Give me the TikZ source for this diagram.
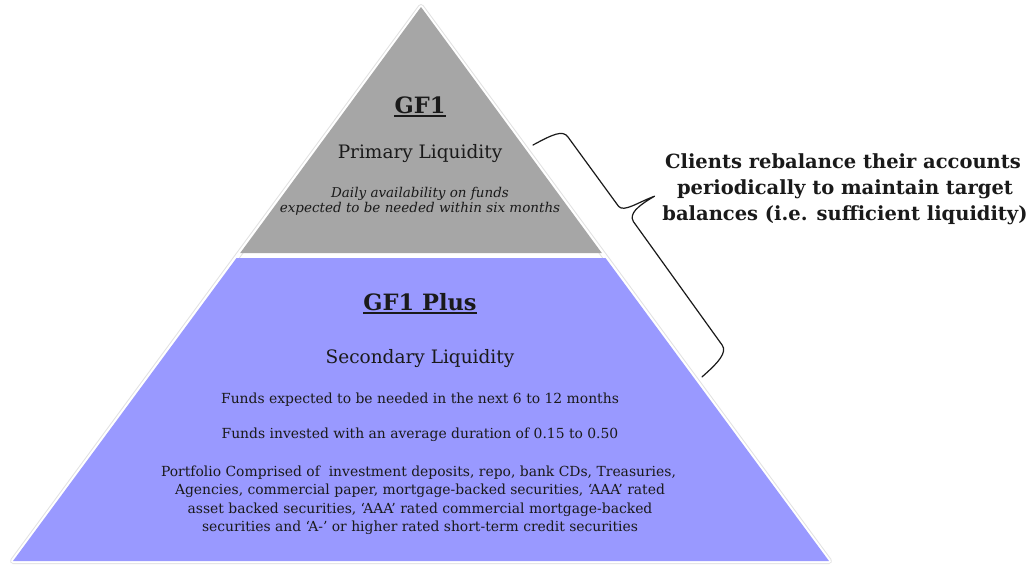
\documentclass[tikz,border=0pt]{standalone}
\usepackage{fontspec}
\setmainfont{DejaVu Serif}
\definecolor{gfgray}{HTML}{A6A6A6}
\definecolor{gfblue}{HTML}{9999FF}
\definecolor{txtc}{HTML}{1A1A1A}
\definecolor{edgec}{HTML}{E2E2E2}
\begin{document}
\begin{tikzpicture}[x=1pt,y=-1pt,
  txt/.style={inner sep=0pt, anchor=base, text=txtc},
  title/.style={txt, font=\fontsize{22.5}{26}\selectfont\bfseries},
  sub/.style={txt, font=\fontsize{18.5}{22}\selectfont},
  note/.style={txt, font=\fontsize{13.5}{16}\selectfont\itshape},
  body/.style={txt, font=\fontsize{13.9}{17}\selectfont},
  side/.style={txt, font=\fontsize{19.5}{24}\selectfont\bfseries},
  uline/.style={draw=txtc, line width=1.6pt},
  bracec/.style={draw=txtc, line width=1.2pt, line join=round, line cap=round}]
\useasboundingbox (0,0) rectangle (1029,568);
\fill[white] (0,0) rectangle (1029,568);
% pyramid outline
\draw[edgec, line width=6pt, line join=round] (421,7) -- (829,561) -- (13,561) -- cycle;
\draw[white, line width=4pt, line join=round] (421,7) -- (829,561) -- (13,561) -- cycle;
% tiers
\fill[gfgray] (421,7) -- (601.8,253) -- (240.2,253) -- cycle;
\fill[gfblue] (236.5,258) -- (605.5,258) -- (829,561) -- (13,561) -- cycle;
% GF1 tier
\node[title] (gf1) at (420,113) {GF1};
\draw[uline] ([yshift=-3pt]gf1.base west) -- ([yshift=-3pt]gf1.base east);
\node[sub] (pl) at (420,158) {Primary Liquidity};
\node[note] (d1) at (420,197) {Daily availability on funds};
\node[note] (d2) at (420,212.5) {expected to be needed within six months};
% GF1 Plus tier
\node[title] (gfp) at (420,310) {GF1 Plus};
\draw[uline] ([yshift=-3pt]gfp.base west) -- ([yshift=-3pt]gfp.base east);
\node[sub] (sl) at (420,363) {Secondary Liquidity};
\node[body] (f1) at (420,403) {Funds expected to be needed in the next 6 to 12 months};
\node[body] (f2) at (420,438) {Funds invested with an average duration of 0.15 to 0.50};
\node[body] (p1) at (418.5,476) {Portfolio Comprised of\ \ investment deposits, repo, bank CDs, Treasuries,};
\node[body] (p2) at (420,494.5) {Agencies, commercial paper, mortgage-backed securities, ‘AAA’ rated};
\node[body] (p3) at (420,513) {asset backed securities, ‘AAA’ rated commercial mortgage-backed};
\node[body] (p4) at (420,531) {securities and ‘A-’ or higher rated short-term credit securities};
% brace
\coordinate (bs) at (533,145);
\coordinate (be) at (702,376.9);
\draw[bracec] (bs) .. controls (552.5,134.5) and (562.6,129.6) .. (567.9,136.9)
  -- (618.6,206.4) .. controls (624.1,212.3) and (637.0,202.8) .. (654.5,196.2)
  .. controls (637.2,206.4) and (628.9,213.7) .. (633.4,221.6)
  -- (722.1,345.0) .. controls (727.4,352.3) and (718.7,362.3) .. (be);
% side text
\node[side] (r1) at (843,168) {Clients rebalance their accounts};
\node[side] (r2) at (845,194) {periodically to maintain target};
\node[side] (r3) at (845,220) {balances (i.e. sufficient liquidity)};
\end{tikzpicture}
\end{document}
